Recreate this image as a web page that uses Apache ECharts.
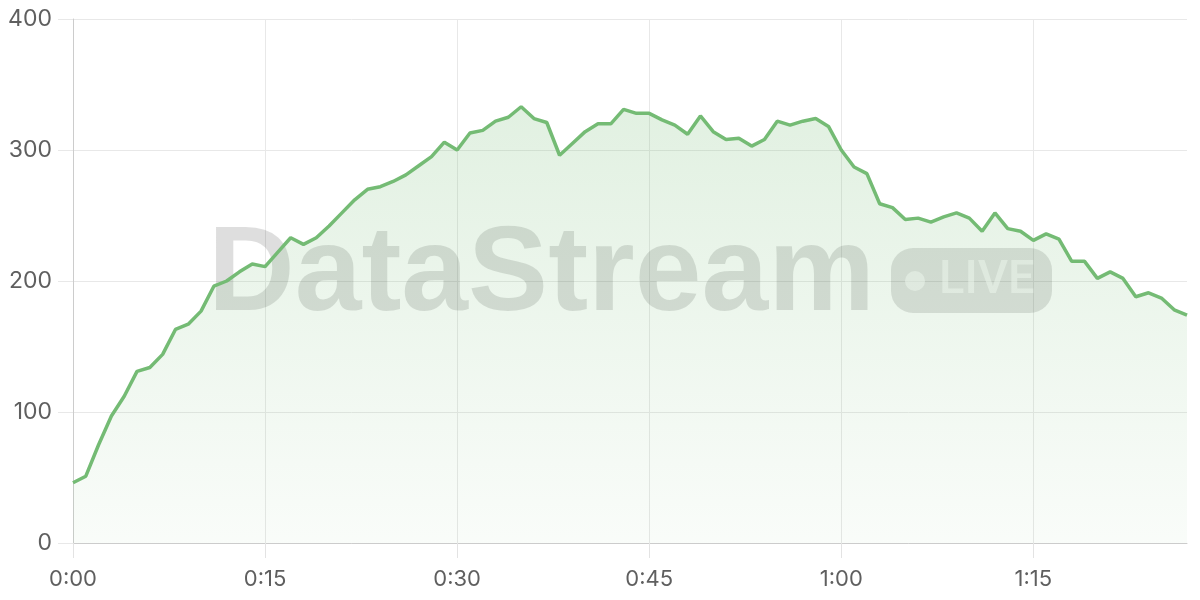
<!DOCTYPE html>
<html>
<head>
<meta charset="utf-8">
<script src="https://cdn.jsdelivr.net/npm/echarts@6/dist/echarts.min.js"></script>
<style>
html,body{margin:0;padding:0;background:#fff;}
#chart{width:1200px;height:600px;}
</style>
</head>
<body>
<div id="chart"></div>
<script>
// Minutes elapsed, one point per minute (0:00 .. 1:27)
const minutes = Array.from({length: 88}, (_, i) => i);
const categories = minutes.map(m => Math.floor(m / 60) + ':' + String(m % 60).padStart(2, '0'));
const values = [
  46, 51, 75, 97, 112, 131, 134, 144, 163, 167, 177, 196, 200, 207, 213,
  211, 222, 233, 228, 233, 242, 252, 262, 270, 272, 276, 281, 288, 295, 306,
  300, 313, 315, 322, 325, 333, 324, 321, 296, 305, 314, 320, 320, 331, 328,
  328, 323, 319, 312, 326, 314, 308, 309, 303, 308, 322, 319, 322, 324, 318,
  300, 287, 282, 259, 256, 247, 248, 245, 249, 252, 248, 238, 252, 240, 238,
  231, 236, 232, 215, 215, 202, 207, 202, 188, 191, 187, 178, 174
];
const yTicks = [0, 100, 200, 300, 400];
const watermarkText = 'DataStream';
const badgeText = 'LIVE';

const lineColor = '#74bb74';
const labelFont = 'Inter';

const chart = echarts.init(document.getElementById('chart'), null, {renderer: 'canvas'});
chart.setOption({
  animation: false,
  backgroundColor: '#ffffff',
  grid: {left: 73, right: 13, top: 19, bottom: 57, containLabel: false},
  xAxis: {
    type: 'category',
    data: categories,
    boundaryGap: false,
    axisLine: {show: true, lineStyle: {color: '#cccccc', width: 1}},
    axisTick: {show: true, interval: 14, length: 15, lineStyle: {color: '#e3e3e3'}},
    axisLabel: {interval: 14, margin: 25, color: '#5f5f5f', fontSize: 22, fontFamily: labelFont},
    splitLine: {show: true, interval: 14, lineStyle: {color: '#e8e8e8', width: 1}}
  },
  yAxis: {
    type: 'value',
    min: yTicks[0],
    max: yTicks[yTicks.length - 1],
    interval: yTicks[1] - yTicks[0],
    axisLine: {show: true, lineStyle: {color: '#cccccc', width: 1}},
    axisTick: {show: true, length: 15, lineStyle: {color: '#e8e8e8'}},
    axisLabel: {margin: 21, color: '#5f5f5f', fontSize: 23, fontFamily: labelFont},
    splitLine: {show: true, lineStyle: {color: '#e8e8e8', width: 1}}
  },
  graphic: [
    {
      type: 'text', z: 1, silent: true,
      style: {
        text: watermarkText, x: 208, y: 277,
        font: 'bold 120px "Liberation Sans", Arial, sans-serif',
        fill: 'rgba(0,0,0,0.13)', textAlign: 'left', textVerticalAlign: 'middle'
      }
    },
    {
      type: 'rect', z: 1, silent: true,
      shape: {x: 891, y: 248, width: 161, height: 65, r: 22},
      style: {fill: 'rgba(0,0,0,0.12)'}
    },
    {
      type: 'circle', z: 1, silent: true,
      shape: {cx: 915, cy: 281, r: 10},
      style: {fill: 'rgba(255,255,255,0.55)'}
    },
    {
      type: 'text', z: 1, silent: true,
      style: {
        text: badgeText, x: 939, y: 281,
        font: '500 47px Roboto, sans-serif',
        fill: 'rgba(255,255,255,0.55)', textAlign: 'left', textVerticalAlign: 'middle'
      }
    }
  ],
  series: [{
    type: 'line',
    data: values,
    showSymbol: false,
    symbol: 'none',
    z: 3,
    lineStyle: {color: lineColor, width: 3.5},
    areaStyle: {
      color: new echarts.graphic.LinearGradient(0, 0, 0, 1, [
        {offset: 0, color: 'rgba(116,187,116,0.30)'},
        {offset: 1, color: 'rgba(116,187,116,0.06)'}
      ])
    }
  }]
});
</script>
</body>
</html>
